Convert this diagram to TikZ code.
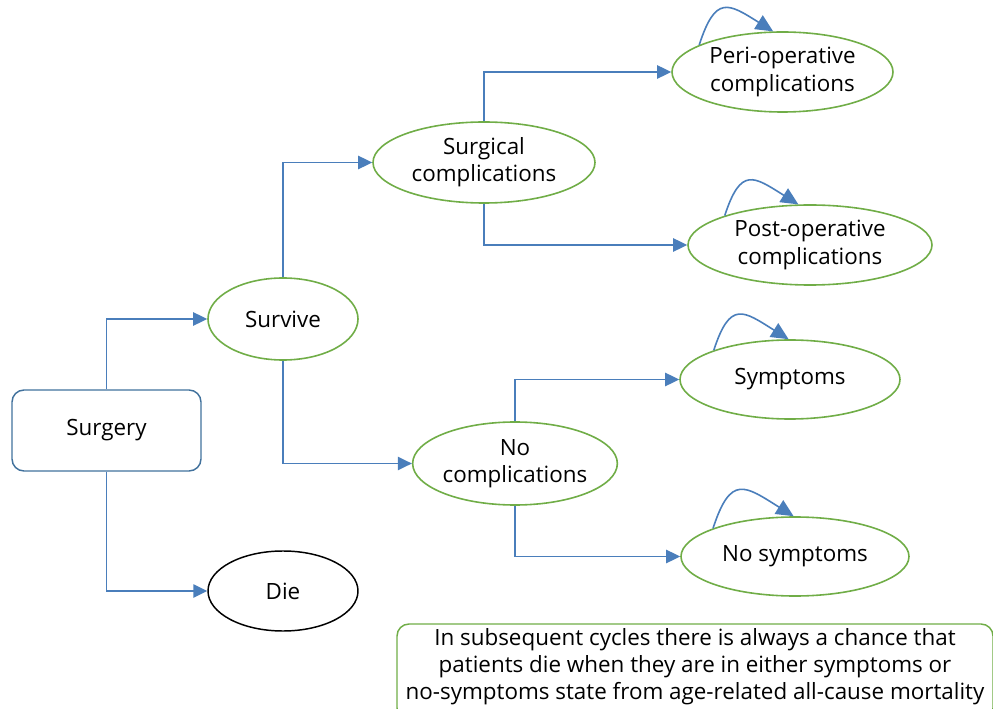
\documentclass[tikz,border=0pt]{standalone}
\usepackage{fontspec}
\setmainfont{Open Sans}
\usetikzlibrary{shapes.geometric,arrows.meta}
\definecolor{linkblue}{HTML}{4A7EBB}
\definecolor{stategreen}{HTML}{70AD47}
\definecolor{boxblue}{HTML}{41719C}
\begin{document}
\begin{tikzpicture}[x=0.75pt,y=-0.75pt]
\tikzstyle{every node}+=[inner sep=0pt,align=center,font=\fontsize{16.8}{20.3}\selectfont]
\tikzstyle{state}=[ellipse,draw=stategreen,line width=1.2pt]
\tikzstyle{flow}=[draw=linkblue,line width=1.1pt,-{Triangle[length=10.5pt,width=10pt]},color=linkblue]
\tikzstyle{stay}=[flow,line width=1.2pt,-{Triangle[length=13pt,width=12pt]},out=72,in=148,looseness=1.8]
\useasboundingbox (0,0) rectangle (993,709);
\node[draw=boxblue,line width=1.1pt,rounded corners=9pt,minimum width=141.75pt,minimum height=60.75pt] (surgery) at (106.5,430.5) {Surgery};
\node[state,minimum width=112.5pt,minimum height=61.5pt] (survive) at (283,319) {Survive};
\node[ellipse,draw=black,line width=1.1pt,minimum width=112.5pt,minimum height=60pt] (die) at (283,591) {Die};
\node[state,minimum width=166.5pt,minimum height=60.75pt] (surgical) at (484,162.5) {Surgical\\complications};
\node[state,minimum width=153pt,minimum height=62.25pt] (nocomp) at (515,463.5) {No\\complications};
\node[state,minimum width=165.75pt,minimum height=60pt] (peri) at (782.5,72) {Peri-operative\\complications};
\node[state,minimum width=183pt,minimum height=60pt] (post) at (810,245) {Post-operative\\complications};
\node[state,minimum width=165pt,minimum height=59.25pt] (symptoms) at (790,379.5) {Symptoms};
\node[state,minimum width=171pt,minimum height=59.25pt] (nosymptoms) at (795,556.5) {No symptoms};
\node[draw=stategreen,line width=1.1pt,rounded corners=9pt,minimum width=447pt,minimum height=72pt] (notebox) at (695,672) {};
\node (note) at (695,667) {In subsequent cycles there is always a chance that\\patients die when they are in either symptoms or\\no-symptoms state from age-related all-cause mortality};
\draw[flow] (surgery.north) |- (survive.west);
\draw[flow] (surgery.south) |- (die.west);
\draw[flow] (survive.north) |- (surgical.west);
\draw[flow] (survive.south) |- (nocomp.west);
\draw[flow] (surgical.north) |- (peri.west);
\draw[flow] (surgical.south) |- (post.west);
\draw[flow] (nocomp.north) |- (symptoms.west);
\draw[flow] (nocomp.south) |- (nosymptoms.west);
\draw[stay] (peri.162) to (peri.103);
\draw[stay] (post.161) to (post.106);
\draw[stay] (symptoms.159) to (symptoms.92);
\draw[stay] (nosymptoms.161) to (nosymptoms.92);
\end{tikzpicture}
\end{document}
